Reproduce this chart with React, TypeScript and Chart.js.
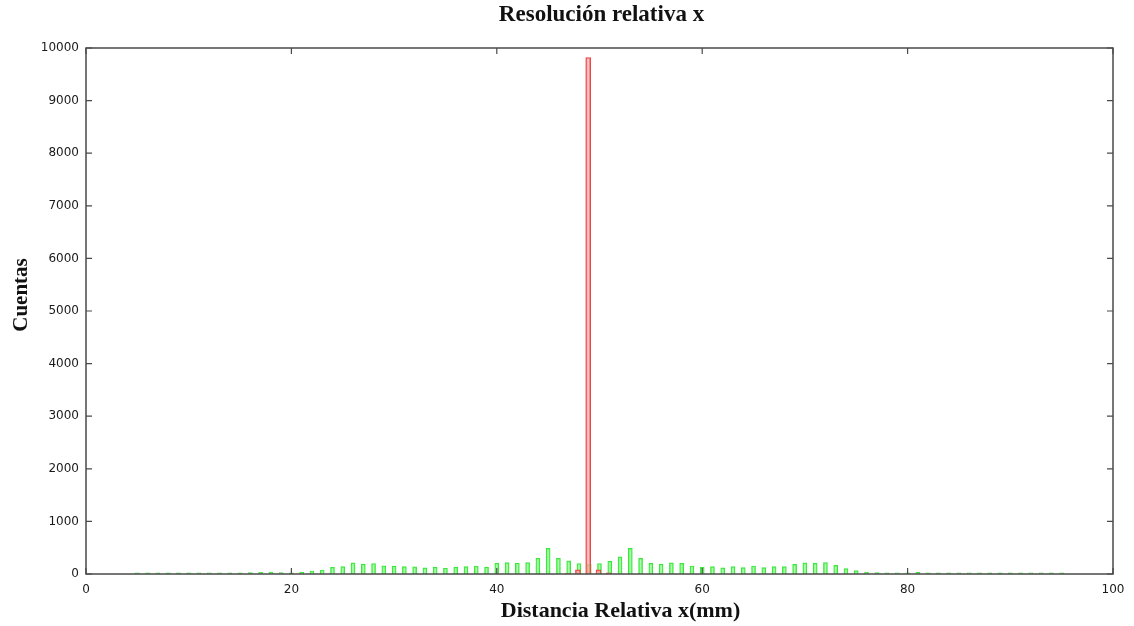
import React, { useEffect, useRef } from "react";
import { Chart, registerables } from "chart.js";

Chart.register(...registerables);

const chartTitle = "Resolución relativa x";
const xAxisTitle = "Distancia Relativa x(mm)";
const yAxisTitle = "Cuentas";

const greenPositions = [
  5, 6, 7, 8, 9, 10, 11, 12, 13, 14, 15, 16, 17, 18, 19, 20, 21, 22, 23, 24,
  25, 26, 27, 28, 29, 30, 31, 32, 33, 34, 35, 36, 37, 38, 39, 40, 41, 42, 43, 44,
  45, 46, 47, 48, 49, 50, 51, 52, 53, 54, 55, 56, 57, 58, 59, 60, 61, 62, 63, 64,
  65, 66, 67, 68, 69, 70, 71, 72, 73, 74, 75, 76, 77, 78, 79, 80, 81, 82, 83, 84,
  85, 86, 87, 88, 89, 90, 91, 92, 93, 94, 95,
];
const greenCounts = [
  22, 22, 22, 22, 22, 22, 22, 22, 24, 24, 24, 26, 34, 36, 25, 22, 38, 57, 76, 127,
  139, 210, 190, 200, 155, 150, 140, 135, 115, 130, 110, 130, 140, 152, 130, 205, 215, 205, 218, 300,
  490, 298, 250, 200, 185, 200, 245, 325, 488, 298, 203, 190, 212, 203, 152, 125, 139, 118, 139, 120,
  152, 120, 139, 139, 184, 212, 203, 215, 165, 101, 63, 38, 28, 24, 22, 22, 30, 22, 22, 22,
  22, 22, 22, 22, 22, 22, 22, 22, 22, 22, 22,
];

const redPositions = [46.9, 47.9, 48.9, 49.9, 50.9];
const redCounts = [10, 80, 9820, 80, 20];

const xTickValues = [0, 20, 40, 60, 80, 100];
const yTickValues = [0, 1000, 2000, 3000, 4000, 5000, 6000, 7000, 8000, 9000, 10000];

const serif = "'Liberation Serif', 'Times New Roman', serif";

const framePlugin = {
  id: "gnuplotFrame",
  afterDatasetsDraw(chart: any) {
    const { ctx, chartArea, scales } = chart;
    const { left, right, top, bottom } = chartArea;
    const xs = scales.x;
    const ys = scales.y;
    ctx.save();
    ctx.strokeStyle = "#4a4a4a";
    ctx.lineWidth = 1.5;
    ctx.strokeRect(left, top, right - left, bottom - top);
    ctx.lineWidth = 1.2;
    ctx.beginPath();
    const len = 6;
    xTickValues.forEach((v) => {
      const px = xs.getPixelForValue(v);
      ctx.moveTo(px, bottom);
      ctx.lineTo(px, bottom - len);
      ctx.moveTo(px, top);
      ctx.lineTo(px, top + len);
    });
    yTickValues.forEach((v) => {
      const py = ys.getPixelForValue(v);
      ctx.moveTo(left, py);
      ctx.lineTo(left + len, py);
      ctx.moveTo(right, py);
      ctx.lineTo(right - len, py);
    });
    ctx.stroke();
    ctx.restore();
  },
  afterDraw(chart: any) {
    const { ctx, chartArea } = chart;
    const { left, right, top, bottom } = chartArea;
    ctx.save();
    ctx.fillStyle = "#111";
    ctx.textAlign = "center";
    ctx.textBaseline = "middle";
    ctx.font = `bold 23px ${serif}`;
    ctx.fillText(chartTitle, (left + right) / 2 + 2, 15);
    ctx.font = `bold 22px ${serif}`;
    ctx.fillText(xAxisTitle, (left + right) / 2 + 21, 611);
    ctx.translate(22, (top + bottom) / 2 - 16);
    ctx.rotate(-Math.PI / 2);
    ctx.font = `bold 21px ${serif}`;
    ctx.fillText(yAxisTitle, 0, 0);
    ctx.restore();
  },
};

export default function App() {
  const canvasRef = useRef<HTMLCanvasElement | null>(null);

  useEffect(() => {
    document.body.style.margin = "0";
    document.body.style.background = "#ffffff";
    const canvas = canvasRef.current;
    if (!canvas) return;

    const greenData = greenPositions.map((x, i) => ({ x, y: greenCounts[i] }));
    const redData = redPositions.map((x, i) => ({ x, y: redCounts[i] }));

    const chart = new Chart(canvas, {
      type: "bar",
      data: {
        datasets: [
          {
            label: "green",
            data: greenData as any,
            backgroundColor: "rgba(160, 255, 160, 0.75)",
            borderColor: "rgb(60, 230, 60)",
            borderWidth: 1.2,
            barThickness: 4,
            grouped: false,
            order: 2,
          } as any,
          {
            label: "red",
            data: redData as any,
            backgroundColor: "rgba(255, 170, 170, 0.7)",
            borderColor: "rgb(235, 70, 70)",
            borderWidth: 1.2,
            barThickness: 5,
            grouped: false,
            order: 1,
          } as any,
        ],
      },
      options: {
        animation: false,
        responsive: false,
        maintainAspectRatio: false,
        layout: { padding: { left: 0, right: 21, top: 48, bottom: 0 } },
        plugins: {
          legend: { display: false },
          tooltip: { enabled: false },
          title: { display: false },
        },
        scales: {
          x: {
            type: "linear",
            min: 0,
            max: 100,
            offset: false,
            afterFit: (s: any) => {
              s.height = 52;
            },
            afterBuildTicks: (s: any) => {
              s.ticks = xTickValues.map((v) => ({ value: v }));
            },
            grid: { display: false, drawTicks: false },
            border: { display: false },
            ticks: {
              padding: 9,
              color: "#1a1a1a",
              font: { family: "'DejaVu Sans', sans-serif", size: 12 },
              maxRotation: 0,
              callback: (v: any) => String(v),
            },
          },
          y: {
            type: "linear",
            min: 0,
            max: 10000,
            afterFit: (s: any) => {
              s.width = 86;
            },
            afterBuildTicks: (s: any) => {
              s.ticks = yTickValues.map((v) => ({ value: v }));
            },
            grid: { display: false, drawTicks: false },
            border: { display: false },
            ticks: {
              padding: 7,
              color: "#1a1a1a",
              font: { family: "'DejaVu Sans', sans-serif", size: 12 },
              callback: (v: any) => String(v),
            },
          },
        },
      },
      plugins: [framePlugin],
    });

    return () => {
      chart.destroy();
    };
  }, []);

  return (
    <div style={{ width: 1134, height: 626, background: "#fff" }}>
      <canvas ref={canvasRef} width={1134} height={626} style={{ display: "block" }} />
    </div>
  );
}
